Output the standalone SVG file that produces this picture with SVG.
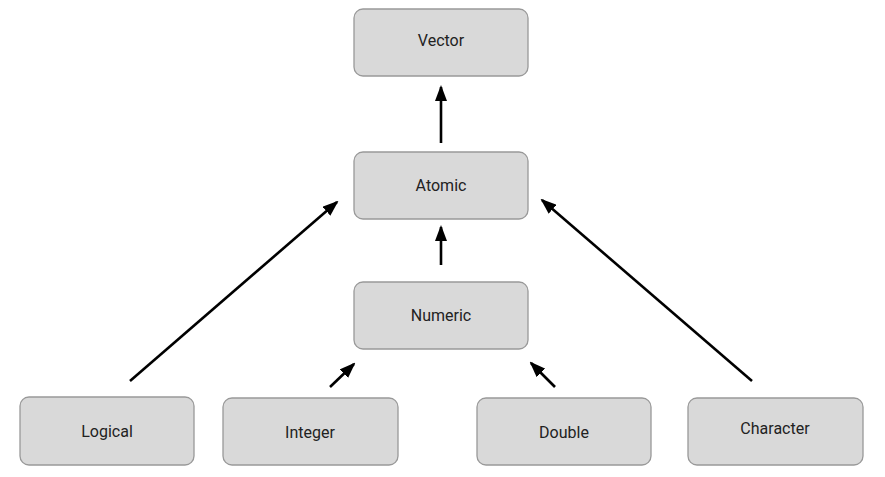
<svg xmlns="http://www.w3.org/2000/svg" width="885" height="477" viewBox="0 0 885 477">
<style>
.box{fill:#d9d9d9;stroke:#999999;stroke-width:1.3}
.lbl{font-family:Roboto,"Liberation Sans",sans-serif;font-size:16px;fill:#222222;text-anchor:middle;dominant-baseline:central}
.edge{stroke:#000;stroke-width:2.6;fill:none;marker-end:url(#ah)}
</style>
<defs>
<marker id="ah" markerWidth="16" markerHeight="12" viewBox="0 0 16 12" refX="14" refY="6" orient="auto" markerUnits="userSpaceOnUse">
<path d="M0,0 L16,6 L0,12 Z" fill="#000"/>
</marker>
</defs>
<rect width="885" height="477" fill="#fff"/>
<g id="edges">
<line class="edge" x1="441" y1="143" x2="441" y2="87"/>
<line class="edge" x1="441" y1="265" x2="441" y2="227"/>
<line class="edge" x1="130" y1="381" x2="337" y2="202"/>
<line class="edge" x1="330" y1="387" x2="354" y2="364"/>
<line class="edge" x1="555" y1="387" x2="531" y2="363"/>
<line class="edge" x1="752" y1="381" x2="542" y2="200"/>
</g>
<g id="vector"><rect class="box" x="354" y="9" width="174" height="67" rx="9"/><text class="lbl" x="441" y="40">Vector</text></g>
<g id="atomic"><rect class="box" x="354" y="152" width="174" height="67" rx="9"/><text class="lbl" x="441" y="185">Atomic</text></g>
<g id="numeric"><rect class="box" x="354" y="282" width="174" height="67" rx="9"/><text class="lbl" x="441" y="315">Numeric</text></g>
<g id="logical"><rect class="box" x="20" y="397" width="174" height="68" rx="9"/><text class="lbl" x="107" y="431">Logical</text></g>
<g id="integer"><rect class="box" x="223" y="398" width="175" height="67" rx="9"/><text class="lbl" x="310" y="432">Integer</text></g>
<g id="double"><rect class="box" x="477" y="398" width="174" height="67" rx="9"/><text class="lbl" x="564" y="432">Double</text></g>
<g id="character"><rect class="box" x="688" y="398" width="175" height="67" rx="9"/><text class="lbl" x="775" y="428">Character</text></g>
</svg>
